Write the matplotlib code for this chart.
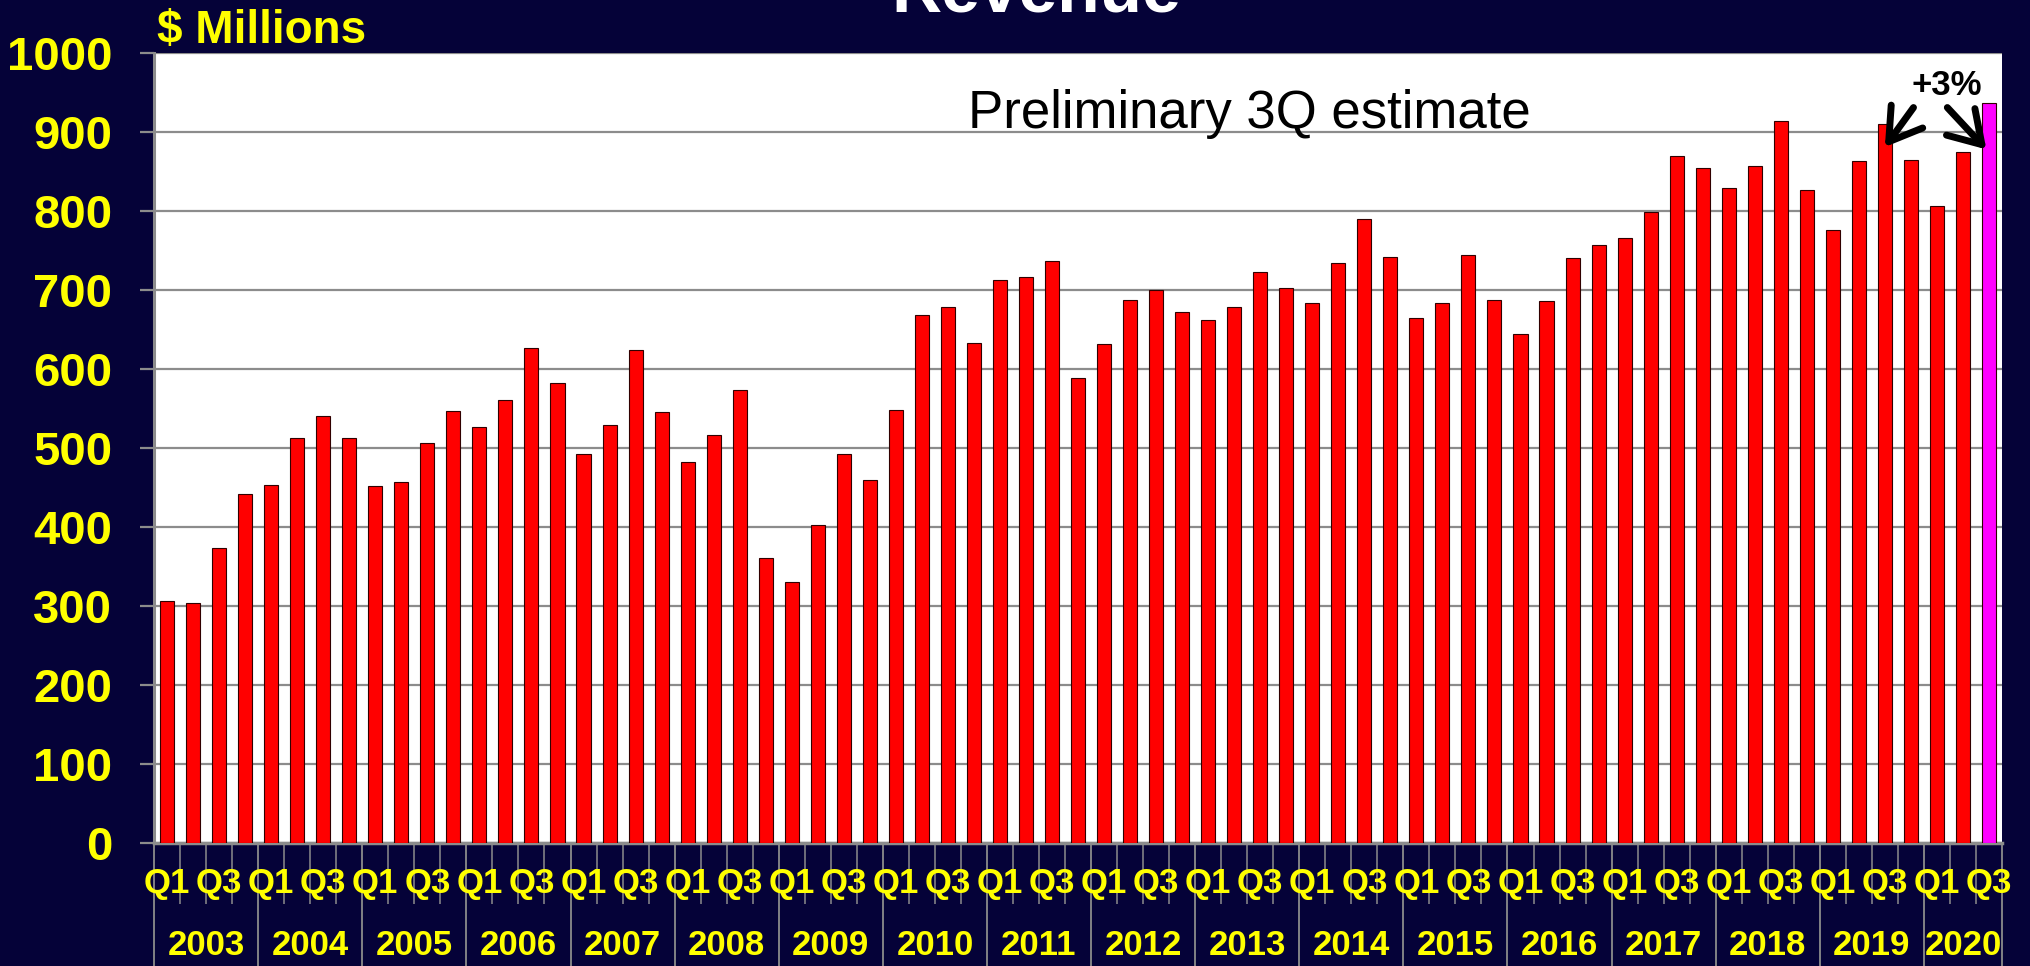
import matplotlib.pyplot as plt
import numpy as np

# quarterly revenue, $ millions, 2003 Q1 .. 2020 Q3
years = list(range(2003, 2021))
quarter_names = ["Q1", "Q2", "Q3", "Q4"]
revenue = [
    306, 304, 373, 442,   # 2003
    453, 513, 541, 513,   # 2004
    452, 457, 506, 547,   # 2005
    527, 561, 627, 582,   # 2006
    492, 529, 624, 545,   # 2007
    482, 516, 573, 361,   # 2008
    330, 402, 492, 459,   # 2009
    548, 669, 679, 633,   # 2010
    713, 716, 737, 589,   # 2011
    632, 688, 700, 672,   # 2012
    662, 679, 723, 703,   # 2013
    684, 734, 790, 742,   # 2014
    665, 683, 744, 687,   # 2015
    644, 686, 741, 757,   # 2016
    766, 799, 870, 855,   # 2017
    829, 857, 914, 826,   # 2018
    776, 863, 910, 865,   # 2019
    806, 875, 937,        # 2020 (Q3 preliminary)
]
y_ticks = list(range(0, 1001, 100))

BG = "#050238"
YELLOW = "#ffff00"
GREY = "#8c8c8c"
FONT = ["Liberation Sans", "DejaVu Sans"]

n = len(revenue)
x = np.arange(n)
colors = ["#ff0000"] * (n - 1) + ["#ff00ff"]

fig = plt.figure(figsize=(20.3, 9.66), dpi=100, facecolor=BG)
ax = fig.add_axes([0.0759, 0.1273, 0.9103, 0.8178])
ax.set_facecolor("white")

ax.bar(x, revenue, width=0.54, color=colors, edgecolor="#300000", linewidth=0.8, zorder=3)

ax.set_xlim(-0.5, n - 0.5)
ax.set_ylim(0, 1000)
ax.set_yticks(y_ticks)
ax.set_yticklabels([str(v) for v in y_ticks])
ax.yaxis.grid(True, color=GREY, linewidth=1.6, zorder=0)
ax.set_axisbelow(True)

for side in ["top", "right"]:
    ax.spines[side].set_visible(False)
ax.spines["left"].set_color(GREY)
ax.spines["left"].set_linewidth(2.2)
ax.spines["bottom"].set_color(GREY)
ax.spines["bottom"].set_linewidth(2.5)

ax.tick_params(axis="y", direction="out", length=10, width=1.6, color=GREY,
               labelcolor=YELLOW, labelsize=34, pad=20)
for lab in ax.get_yticklabels():
    lab.set_fontfamily(FONT)
    lab.set_fontweight("bold")

# x axis: long ticks at year boundaries, short ticks between quarters
year_edges = [i - 0.5 for i in range(0, n, 4)] + [n - 0.5]
ax.set_xticks(year_edges)
ax.set_xticklabels([])
ax.set_xticks(np.arange(n + 1) - 0.5, minor=True)
ax.tick_params(axis="x", which="major", direction="out", length=90, width=1.3, color=GREY)
ax.tick_params(axis="x", which="minor", direction="out", length=44, width=1.1, color=GREY)

xt = ax.get_xaxis_transform()
for i in range(n):
    q = quarter_names[i % 4]
    if q in ("Q1", "Q3"):
        ax.text(i, -0.0506, q, transform=xt, ha="center", va="center", color=YELLOW,
                fontsize=25, fontweight="bold", family=FONT, clip_on=False, zorder=5)
for k, yr in enumerate(years):
    start = k * 4
    stop = min(start + 4, n)
    ax.text((start + stop - 1) / 2, -0.130, str(yr), transform=xt, ha="center", va="center",
            color=YELLOW, fontsize=25, fontweight="bold", family=FONT, clip_on=False)

fig.text(0.0773, 1 - 43 / 966, "$ Millions", color=YELLOW, fontsize=33, fontweight="bold",
         family=FONT, ha="left", va="baseline")
fig.text(0.5105, 1 - 12 / 966, "Revenue", color="white", fontsize=50, fontweight="bold",
         family=FONT, ha="center", va="baseline")

ax.text(30.77, 905, "Preliminary 3Q estimate", color="black", fontsize=38, family=FONT,
        ha="left", va="baseline", zorder=6)
ax.text(68.38, 947, "+3%", color="black", fontsize=25, fontweight="bold", family=FONT,
        ha="center", va="baseline", zorder=6)
arrow = dict(arrowstyle="->, head_length=0.8, head_width=0.5", lw=5, color="black",
             shrinkA=0, shrinkB=0, mutation_scale=28)
ax.annotate("", xy=(66.0, 881), xytext=(67.1, 931), arrowprops=arrow, zorder=6)
ax.annotate("", xy=(69.9, 878), xytext=(68.4, 931), arrowprops=arrow, zorder=6)

fig.savefig("out.png", dpi=100, facecolor=BG)
